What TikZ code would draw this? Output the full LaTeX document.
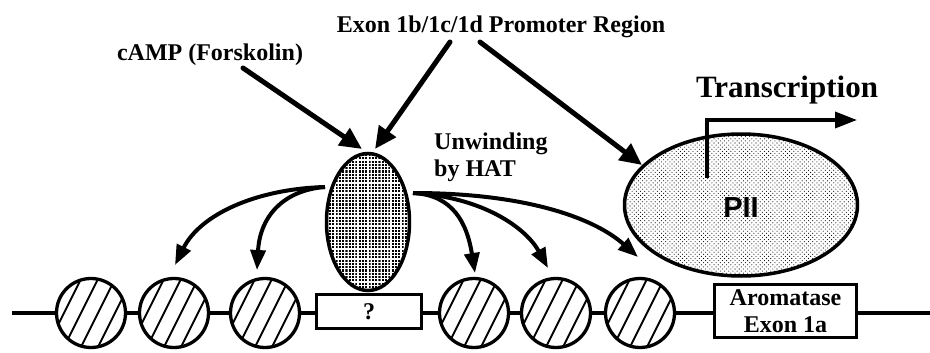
\documentclass[tikz,border=0pt]{standalone}
\usepackage{fontspec}
\setmainfont{Liberation Serif}
\newfontfamily\sansfont{Liberation Sans}
\usetikzlibrary{arrows.meta,shapes.geometric,patterns}
\pgfdeclarepatternformonly{densedots}{\pgfqpoint{-1.1pt}{-1.1pt}}{\pgfqpoint{1.1pt}{1.1pt}}{\pgfqpoint{3.3pt}{3.3pt}}{\pgfpathrectangle{\pgfqpoint{-1.05pt}{-1.05pt}}{\pgfqpoint{2.1pt}{2.1pt}}\pgfusepath{fill}}
\pgfdeclarepatternformonly{lightdots}{\pgfqpoint{-0.6pt}{-0.6pt}}{\pgfqpoint{2.7pt}{2.7pt}}{\pgfqpoint{4.2pt}{4.2pt}}{\pgfpathcircle{\pgfqpoint{0pt}{0pt}}{0.55pt}\pgfpathcircle{\pgfqpoint{2.1pt}{2.1pt}}{0.55pt}\pgfusepath{fill}}
\begin{document}
\begin{tikzpicture}[x=1pt,y=-1pt,
  lbl/.style={font=\bfseries\fontsize{24}{27}\selectfont,inner sep=0pt,align=center},
  nuc/.style={circle,draw,line width=3.3pt,fill=white,minimum size=69pt,inner sep=0pt,
    path picture={\begin{scope}[shift={(path picture bounding box.center)}]
      \foreach \d in {-27,-10,7,24}{\draw[line width=2pt] (\d-25,50) -- (\d+25,-50);}
    \end{scope}}},
  exonbox/.style={draw,line width=3.3pt,fill=white,inner sep=0pt,align=center},
  bigarrow/.style={line width=5pt,line cap=round,-{Triangle[length=22pt,width=20pt]}},
  curvearrow/.style={line width=4pt,-{Triangle[length=20pt,width=15pt]}},
  dna/.style={line width=3.3pt}
]
\useasboundingbox (0,0) rectangle (930,353);
% DNA
\coordinate (dnaL) at (12,313);
\coordinate (dnaR) at (930,313);
\draw[dna] (dnaL) -- (dnaR);
% nucleosomes
\node[nuc] (n1) at (91,313) {};
\node[nuc] (n2) at (174,313) {};
\node[nuc] (n3) at (265,313) {};
\node[nuc] (n4) at (474,313) {};
\node[nuc] (n5) at (556,313) {};
\node[nuc] (n6) at (640,313) {};
% boxes
\node[exonbox,lbl,minimum width=105pt,minimum height=34pt] (qbox) at (369,311.5) {?};
\node[exonbox,lbl,minimum width=142pt,minimum height=53pt] (arom) at (785.5,311) {Aromatase\\Exon 1a};
% ellipses
\node[ellipse,draw,line width=3.5pt,minimum width=83pt,minimum height=137pt,inner sep=0pt,
  preaction={fill=white},pattern=densedots] (hat) at (368,222) {};
\node[ellipse,draw,line width=3.5pt,minimum width=233pt,minimum height=142pt,inner sep=0pt,
  preaction={fill=white},pattern=lightdots] (pii) at (741,205) {};
\node[font=\sansfont\bfseries\fontsize{29}{29}\selectfont,inner sep=0pt] (piilabel) at (741,208) {PII};
% transcription
\coordinate (trs) at (707,178);
\coordinate (tre) at (857,120);
\draw[line width=3.5pt,-{Triangle[length=22pt,width=16pt]}] (trs) |- (tre);
\node[font=\bfseries\fontsize{31}{31}\selectfont,inner sep=0pt] (trtext) at (787,90) {Transcription};
% labels
\node[lbl] (title) at (501,27) {Exon 1b/1c/1d Promoter Region};
\node[lbl] (camp) at (210,55) {cAMP (Forskolin)};
\node[lbl,align=left,anchor=north west] (unw) at (434,133) {Unwinding\\by HAT};
% straight arrows
\coordinate (a1s) at (243,68);
\coordinate (a1e) at (362,149);
\coordinate (a2s) at (450,42);
\coordinate (a2e) at (375,149);
\coordinate (a3s) at (480,42);
\coordinate (a3e) at (642,165);
\draw[bigarrow] (a1s) -- (a1e);
\draw[bigarrow] (a2s) -- (a2e);
\draw[bigarrow] (a3s) -- (a3e);
% curved arrows
\coordinate (hl) at (325,187);
\coordinate (hr) at (413,193);
\coordinate (tA) at (175,265);
\coordinate (tB) at (257,270);
\coordinate (tC) at (475,273);
\coordinate (tD) at (548,268);
\coordinate (tE) at (638,257);
\draw[curvearrow] (hl) .. controls +(-70,2) and +(25,-50) .. (tA);
\draw[curvearrow] (hl) .. controls +(-40,3) and +(3,-55) .. (tB);
\draw[curvearrow] (hr) .. controls +(40,2) and +(-8,-50) .. (tC);
\draw[curvearrow] (hr) .. controls +(70,4) and +(-22,-40) .. (tD);
\draw[curvearrow] (hr) .. controls +(110,0) and +(-45,-40) .. (tE);
\end{tikzpicture}
\end{document}
